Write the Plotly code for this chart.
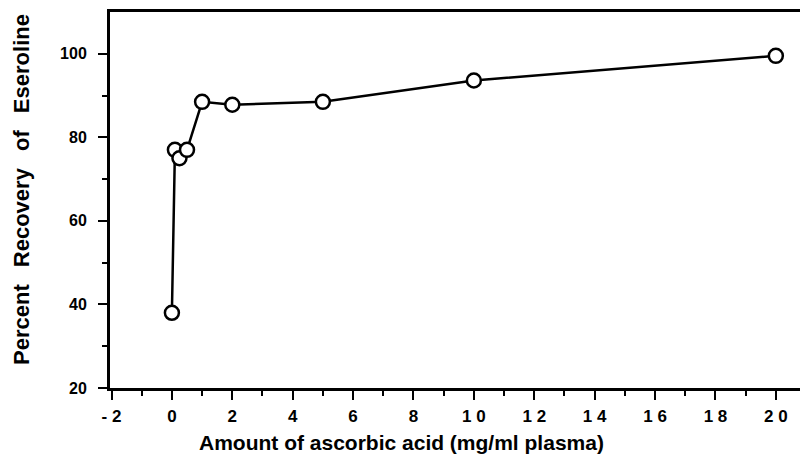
import plotly.graph_objects as go

ascorbic = [0, 0.1, 0.25, 0.5, 1, 2, 5, 10, 20]
recovery = [38, 77, 75, 77, 88.5, 87.8, 88.5, 93.6, 99.5]

x_tick_vals = [-2, 0, 2, 4, 6, 8, 10, 12, 14, 16, 18, 20]
x_tick_text = ["- 2", "0", "2", "4", "6", "8", "1 0", "1 2", "1 4", "1 6", "1 8", "2 0"]
y_tick_vals = [20, 40, 60, 80, 100]
y_tick_text = ["20", "40", "60", "80", "100"]

font = "Liberation Sans, Arial, sans-serif"
W, H = 690, 376  # plot area size (px)

fig = go.Figure()
fig.add_trace(go.Scatter(
    x=ascorbic, y=recovery, mode="lines+markers",
    line=dict(color="black", width=2.5),
    marker=dict(symbol="circle", size=14, color="white",
                line=dict(color="black", width=2.5)),
    showlegend=False,
))

fig.update_layout(
    width=801, height=459,
    margin=dict(l=110, r=1, t=12, b=71),
    plot_bgcolor="white", paper_bgcolor="white",
    font=dict(family=font, color="black", size=16, weight="bold"),
)
fig.update_xaxes(
    range=[-2.05, 20.8], showgrid=False, zeroline=False,
    showline=True, linecolor="black", linewidth=3, mirror=True,
    ticks="outside", ticklen=9, tickwidth=2, tickcolor="black",
    tickvals=x_tick_vals, ticktext=["<b>%s</b>" % t for t in x_tick_text],
    tickfont=dict(family=font, size=17, color="black", weight="bold"),
    ticklabelstandoff=2,
    minor=dict(tickvals=[-1, 1, 3, 5, 7, 9, 11, 13, 15, 17, 19], ticks="outside", ticklen=5, tickwidth=2, tickcolor="black"),
)
fig.update_yaxes(
    range=[20, 110], showgrid=False, zeroline=False,
    showline=True, linecolor="black", linewidth=3,
    ticks="outside", ticklen=9, tickwidth=2, tickcolor="black",
    tickvals=y_tick_vals, ticktext=["<b>%s</b>" % t for t in y_tick_text],
    tickfont=dict(family=font, size=16, color="black", weight="bold"),
    ticklabelstandoff=8,
    minor=dict(tickvals=[30, 50, 70, 90], ticks="outside", ticklen=5, tickwidth=2, tickcolor="black"),
)
fig.add_annotation(
    text="<b>Amount of ascorbic acid (mg/ml plasma)</b>", xref="paper", yref="paper",
    x=(401 - 110) / W, y=(388 - 443) / H, xanchor="center", yanchor="middle", showarrow=False,
    font=dict(family=font, size=21, color="black", weight="bold"),
)
fig.add_annotation(
    text="<b>Percent\u2002 Recovery\u2002 of\u2002 Eseroline</b>", xref="paper", yref="paper",
    x=(21 - 110) / W, y=(388 - 190) / H, xanchor="center", yanchor="middle", textangle=-90, showarrow=False,
    font=dict(family=font, size=22, color="black", weight="bold"),
)

fig.write_html("out.html")
